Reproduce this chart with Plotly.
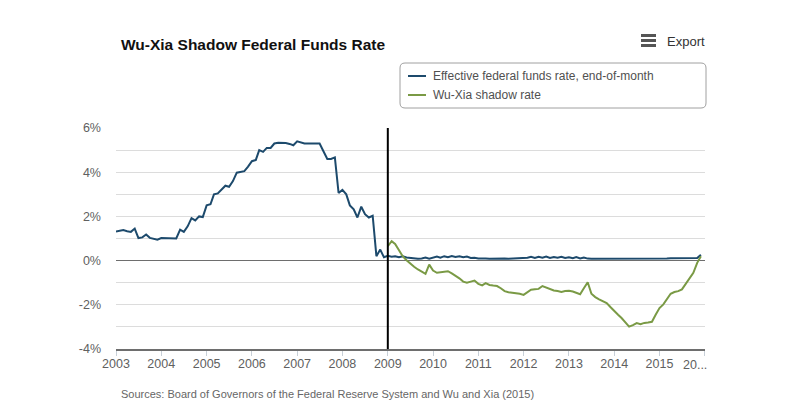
import pandas as pd
import plotly.graph_objects as go

# monthly dates, Jan 2003 .. Dec 2015
months = pd.date_range('2003-01-01', periods=156, freq='MS')
shadow_months = months[72:]

# effective federal funds rate, end-of-month (%)
effr = [
    1.32, 1.35, 1.38, 1.33, 1.30, 1.45, 1.02, 1.05, 1.18, 1.03, 1.00, 0.95,  # 2003
    1.02, 1.02, 1.03, 1.02, 1.00, 1.40, 1.30, 1.55, 1.92, 1.82, 2.00, 1.97,  # 2004
    2.50, 2.55, 3.00, 3.04, 3.20, 3.39, 3.34, 3.60, 3.98, 4.02, 4.05, 4.25,  # 2005
    4.50, 4.55, 5.00, 4.92, 5.10, 5.10, 5.30, 5.33, 5.33, 5.32, 5.28, 5.22,  # 2006
    5.40, 5.33, 5.30, 5.30, 5.30, 5.30, 5.30, 4.95, 4.60, 4.60, 4.67, 3.06,  # 2007
    3.20, 3.00, 2.50, 2.32, 1.95, 2.44, 2.10, 1.95, 2.03, 0.20, 0.50, 0.15,  # 2008
    0.22, 0.18, 0.20, 0.15, 0.20, 0.14, 0.12, 0.10, 0.08, 0.10, 0.14, 0.09,  # 2009
    0.12, 0.18, 0.13, 0.20, 0.15, 0.21, 0.16, 0.20, 0.15, 0.18, 0.12, 0.13,  # 2010
    0.10, 0.08, 0.09, 0.08, 0.09, 0.08, 0.08, 0.09, 0.08, 0.09, 0.08, 0.09,  # 2011
    0.10, 0.13, 0.17, 0.12, 0.17, 0.13, 0.18, 0.12, 0.16, 0.13, 0.17, 0.12,  # 2012
    0.15, 0.11, 0.16, 0.10, 0.14, 0.09, 0.08, 0.08, 0.08, 0.08, 0.08, 0.08,  # 2013
    0.07, 0.07, 0.08, 0.08, 0.08, 0.09, 0.08, 0.08, 0.08, 0.08, 0.08, 0.09,  # 2014
    0.10, 0.10, 0.10, 0.11, 0.11, 0.11, 0.11, 0.12, 0.12, 0.11, 0.12, 0.26,  # 2015
]

# Wu-Xia shadow rate (%), Jan 2009 .. Dec 2015
shadow = [
    0.65, 0.88, 0.75, 0.45, 0.20, 0.02, -0.15, -0.28, -0.40, -0.50, -0.60, -0.18,  # 2009
    -0.45, -0.55, -0.52, -0.50, -0.48, -0.58, -0.68, -0.80, -0.95, -1.00, -0.95, -0.90,  # 2010
    -1.05, -1.12, -1.02, -1.10, -1.13, -1.15, -1.25, -1.38, -1.43, -1.45, -1.48, -1.50,  # 2011
    -1.55, -1.45, -1.32, -1.30, -1.28, -1.15, -1.22, -1.30, -1.35, -1.38, -1.42, -1.38,  # 2012
    -1.36, -1.40, -1.45, -1.52, -1.25, -0.98, -1.50, -1.65, -1.75, -1.85, -1.92, -2.10,  # 2013
    -2.30, -2.45, -2.60, -2.80, -2.99, -2.92, -2.83, -2.88, -2.82, -2.80, -2.77, -2.45,  # 2014
    -2.15, -1.98, -1.75, -1.50, -1.42, -1.38, -1.30, -1.05, -0.80, -0.55, -0.10, 0.20,  # 2015
]

year_ticks = pd.date_range('2003-01-01', '2016-01-01', freq='YS')
year_labels = [str(d.year) for d in year_ticks[:-1]] + ['']
last_year_label = '20...'
pct_ticks = list(range(-4, 7))
pct_labels = [f'{v}%' if v % 2 == 0 else '' for v in pct_ticks]

BLUE = '#1d4a6c'
GREEN = '#7a9a45'

# the page puts the figure 8px in from the window corner
OFF = 8
W, H = 798 - OFF, 415 - OFF
L, R, T, B = 116, 705, 128, 349  # plot area, window pixels


def px(x):
    return (x - L) / (R - L)


def py(y):
    return (B - y) / (B - T)


def rounded_box(x0, y0, x1, y1, r):
    pts = [
        f'M{px(x0 + r)},{py(y0)}',
        f'L{px(x1 - r)},{py(y0)}',
        f'Q{px(x1)},{py(y0)} {px(x1)},{py(y0 + r)}',
        f'L{px(x1)},{py(y1 - r)}',
        f'Q{px(x1)},{py(y1)} {px(x1 - r)},{py(y1)}',
        f'L{px(x0 + r)},{py(y1)}',
        f'Q{px(x0)},{py(y1)} {px(x0)},{py(y1 - r)}',
        f'L{px(x0)},{py(y0 + r)}',
        f'Q{px(x0)},{py(y0)} {px(x0 + r)},{py(y0)}',
        'Z',
    ]
    return ' '.join(pts)


fig = go.Figure()
fig.add_trace(go.Scatter(x=months, y=effr, mode='lines', name='Effective federal funds rate, end-of-month',
                         line=dict(color=BLUE, width=2)))
fig.add_trace(go.Scatter(x=shadow_months, y=shadow, mode='lines', name='Wu-Xia shadow rate',
                         line=dict(color=GREEN, width=2)))

fig.update_layout(
    width=W, height=H,
    margin=dict(l=L - OFF, r=W - (R - OFF), t=T - OFF, b=H - (B - OFF)),
    paper_bgcolor='white',
    plot_bgcolor='white',
    showlegend=False,
    font=dict(family='Liberation Sans, Arial, sans-serif', color='#606060'),
    xaxis=dict(
        type='date',
        range=['2003-01-01', '2016-01-03'],
        tickvals=year_ticks, ticktext=year_labels,
        showgrid=False, zeroline=False,
        showline=True, linecolor='#6e6e6e', linewidth=2,
        ticks='outside', ticklen=5, tickcolor='#c8d0d8', tickwidth=1,
        ticklabelstandoff=-3,
        tickfont=dict(size=12.5, color='#606060'),
    ),
    yaxis=dict(
        range=[-4, 6.001],
        tickvals=pct_ticks, ticktext=pct_labels,
        showgrid=True, gridcolor='#dcdcdc', gridwidth=1,
        zeroline=True, zerolinecolor='#6e6e6e', zerolinewidth=1,
        showline=False, ticks='', ticklabelstandoff=14,
        tickfont=dict(size=12.5, color='#606060'),
    ),
)

# truncated last year label, kept inside the plot width
fig.add_annotation(xref='x', yref='paper', x=year_ticks[-1], y=py(365), text=last_year_label, showarrow=False,
                   xanchor='right', yanchor='middle', xshift=4, font=dict(size=12.5, color='#606060'))

# vertical marker at 2009
fig.add_shape(type='line', xref='x', yref='paper', x0='2009-01-01', x1='2009-01-01', y0=0, y1=1,
              line=dict(color='black', width=2))

# legend box
fig.add_shape(type='path', xref='paper', yref='paper', path=rounded_box(400, 63, 706, 108, 5),
              line=dict(color='#a0a0a0', width=1), fillcolor='rgba(0,0,0,0)')
for row_y, col, label in [(76, BLUE, fig.data[0].name), (95, GREEN, fig.data[1].name)]:
    fig.add_shape(type='line', xref='paper', yref='paper', x0=px(408), x1=px(426), y0=py(row_y), y1=py(row_y),
                  line=dict(color=col, width=2))
    fig.add_annotation(xref='paper', yref='paper', x=px(431), y=py(row_y), text=label, showarrow=False,
                       xanchor='left', yanchor='middle', font=dict(size=12, color='#505050'))

# export button
for bar_y in (35.5, 40.5, 45.5):
    fig.add_shape(type='line', xref='paper', yref='paper', x0=px(641), x1=px(656), y0=py(bar_y), y1=py(bar_y),
                  line=dict(color='#555555', width=3))
fig.add_annotation(xref='paper', yref='paper', x=px(665), y=py(41), text='Export', showarrow=False,
                   xanchor='left', yanchor='middle', font=dict(size=13, color='#333333'))

# title and source
fig.add_annotation(xref='paper', yref='paper', x=px(119), y=py(44), text='<b>Wu-Xia Shadow Federal Funds Rate</b>',
                   showarrow=False, xanchor='left', yanchor='middle', font=dict(size=15.5, color='#111111'))
fig.add_annotation(xref='paper', yref='paper', x=px(119), y=py(394),
                   text='Sources: Board of Governors of the Federal Reserve System and Wu and Xia (2015)',
                   showarrow=False, xanchor='left', yanchor='middle', font=dict(size=11, color='#666666'))

fig.write_html('out.html')
